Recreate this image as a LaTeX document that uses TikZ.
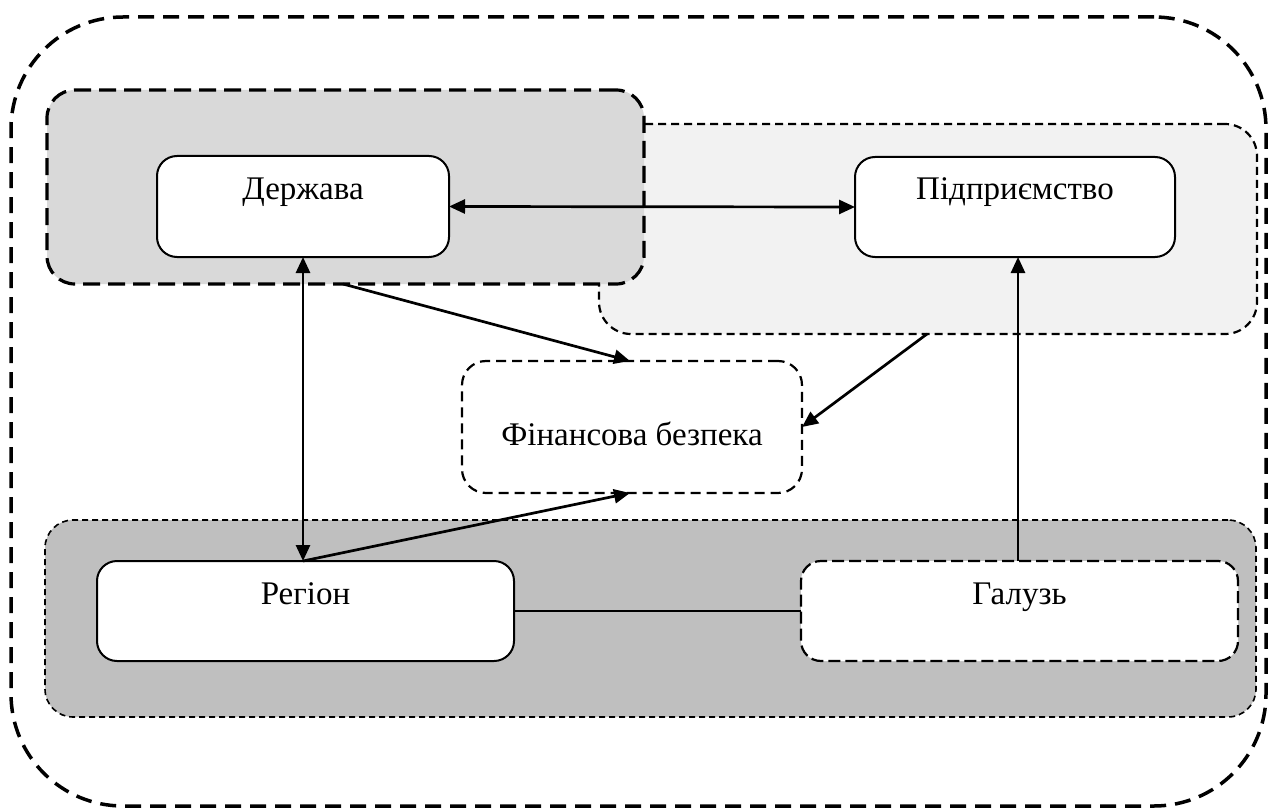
\documentclass[tikz,border=0pt]{standalone}
\usepackage{fontspec}
\setmainfont{Liberation Serif}
\usetikzlibrary{arrows.meta,calc}

\definecolor{grpdark}{HTML}{D9D9D9}
\definecolor{grplight}{HTML}{F2F2F2}
\definecolor{grpmid}{HTML}{BFBFBF}

\tikzset{
  box/.style={draw, rounded corners=20pt, inner sep=0pt, outer sep=0pt,
    font=\fontsize{33}{40}\selectfont, fill=white},
  solidbox/.style={box, line width=2pt},
  textup/.style={text height=22pt, text depth=36pt},
  textdown/.style={text height=42pt, text depth=6pt},
  finbox/.style={box, line width=2.2pt, dash pattern=on 10pt off 6pt, rounded corners=24pt},
  galbox/.style={box, line width=2.2pt, dash pattern=on 12pt off 5pt},
  outerbox/.style={draw, inner sep=0pt, outer sep=0pt, line width=3.5pt,
    dash pattern=on 16pt off 9pt, rounded corners=112pt},
  grpA/.style={draw, fill=grpdark, inner sep=0pt, outer sep=0pt, line width=3.2pt,
    dash pattern=on 17pt off 8pt, rounded corners=28pt},
  grpB/.style={draw, fill=grplight, inner sep=0pt, outer sep=0pt, line width=2.2pt,
    dash pattern=on 8pt off 5pt, rounded corners=32pt},
  grpC/.style={draw, fill=grpmid, inner sep=0pt, outer sep=0pt, line width=1.6pt,
    dash pattern=on 6pt off 4pt, rounded corners=28pt},
  tip/.tip={Triangle[length=16pt,width=14pt]},
  link/.style={line width=2.7pt, -tip},
  dlink/.style={line width=2.7pt, tip-tip},
  plain/.style={line width=2pt}
}

\begin{document}
\begin{tikzpicture}[x=1pt, y=-1pt]
  \useasboundingbox (0,0) rectangle (1273,810);

  % enclosing frame
  \node[outerbox, minimum width=1255pt, minimum height=789pt] (outer) at (638.5,411.5) {};

  % groups (light one first, the darker one overlaps it)
  \node[grpB, minimum width=658pt, minimum height=210pt] (gB) at (928,229) {};
  \node[grpA, minimum width=597pt, minimum height=194pt] (gA) at (345.5,187) {};
  \node[grpC, minimum width=1211pt, minimum height=197pt] (gC) at (650.5,618.5) {};

  % main blocks
  \node[solidbox, textup, minimum width=292pt, minimum height=101pt] (d) at (303,206.5) {Держава};
  \node[solidbox, textup, minimum width=320pt, minimum height=100pt] (p) at (1015,207) {Підприємство};
  \node[finbox, textdown, minimum width=340pt, minimum height=132pt] (f) at (632,427) {Фінансова безпека};
  \node[solidbox, textup, minimum width=417pt, minimum height=100pt] (r) at (305.5,611) {Регіон};
  \node[galbox, textup, minimum width=437pt, minimum height=100pt] (g) at (1019.5,611) {Галузь};

  % connectors
  \draw[dlink] (d.east) -- (p.west);
  \draw[dlink] ($(d.south west)+(146,0)$) -- ($(r.north west)+(206,0)$);
  \draw[link] ($(gA.south west)+(296,0)$) -- ($(f.north west)+(168,0)$);
  \draw[link] ($(gB.south west)+(328,0)$) -- (f.east);
  \draw[link] ($(r.north west)+(206,0)$) -- ($(f.south west)+(168,0)$);
  \draw[link] ($(g.north west)+(217,0)$) -- ($(p.south west)+(163,0)$);
  \draw[plain] (r.east) -- (g.west);
\end{tikzpicture}
\end{document}
